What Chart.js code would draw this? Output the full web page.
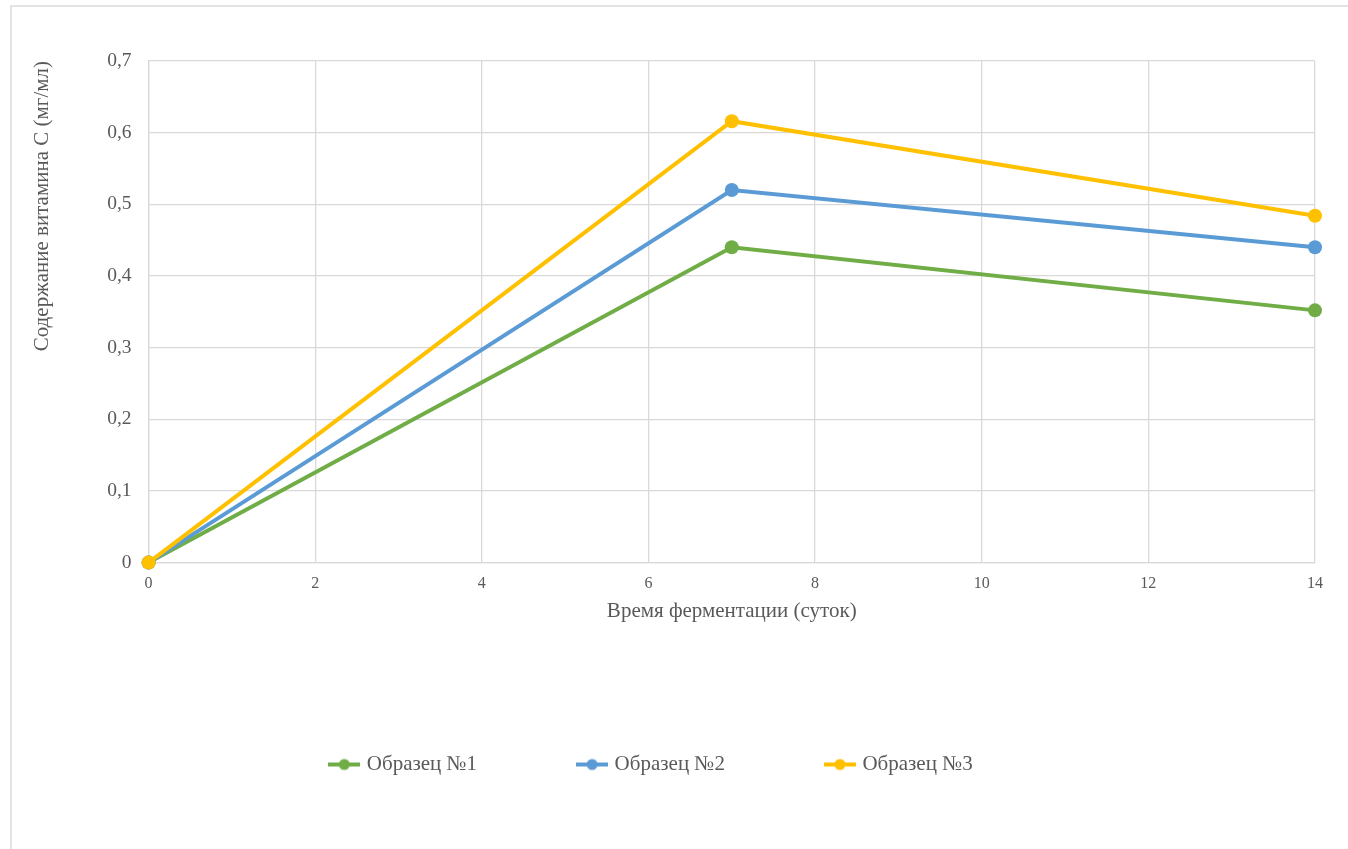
<!DOCTYPE html>
<html>
<head>
<meta charset="utf-8">
<script src="https://cdn.jsdelivr.net/npm/chart.js@4.4.0/dist/chart.umd.min.js"></script>
<style>
  html, body { margin: 0; padding: 0; background: #fff; overflow: hidden; }
  #frame { position: absolute; left: 10px; top: 5px; width: 1400px; height: 900px; border: 2px solid #e3e3e3; }
  #vitChart { position: absolute; left: 0; top: 0; }
</style>
</head>
<body>
<div id="frame"></div>
<canvas id="vitChart" width="1348" height="849"></canvas>
<script>
// --- data ---
const days = [0, 7, 14];
const sample1 = [0, 0.44, 0.352];
const sample2 = [0, 0.52, 0.44];
const sample3 = [0, 0.616, 0.484];
const seriesNames = ['Образец №1', 'Образец №2', 'Образец №3'];
const seriesColors = ['#70AD47', '#5B9BD5', '#FFC000'];

const FONT = '"Liberation Serif", "Times New Roman", serif';
const TEXT_COLOR = '#595959';
const LEGEND_SHIFT = -20; // legend sits a bit left of centre in the original

// legend marker: short line with a dot in the middle
function legendMarker(color) {
    const c = document.createElement('canvas');
    c.width = 32; c.height = 14;
    const g = c.getContext('2d');
    g.strokeStyle = color;
    g.lineWidth = 4;
    g.beginPath(); g.moveTo(0, 7); g.lineTo(32, 7); g.stroke();
    g.fillStyle = color;
    g.beginPath(); g.arc(16, 7, 5.5, 0, Math.PI * 2); g.fill();
    return c;
}

const allSeries = [sample1, sample2, sample3];
const datasets = allSeries.map((vals, i) => ({
    label: seriesNames[i],
    data: days.map((d, j) => ({ x: d, y: vals[j] })),
    borderColor: seriesColors[i],
    backgroundColor: seriesColors[i],
    borderWidth: 4,
    pointRadius: 7,
    pointHoverRadius: 7,
    pointBorderWidth: 0,
    tension: 0,
    clip: false,
    order: 2 - i, // yellow on top
    pointStyle: 'circle'
}));

const shiftLegend = {
    id: 'shiftLegend',
    afterLayout(chart) {
        if (chart.legend) {
            chart.legend.left += LEGEND_SHIFT;
            chart.legend.right += LEGEND_SHIFT;
        }
    }
};

const ctx = document.getElementById('vitChart').getContext('2d');
const vitChart = new Chart(ctx, {
    type: 'line',
    data: { datasets },
    plugins: [shiftLegend],
    options: {
        responsive: false,
        animation: false,
        layout: { padding: { left: 30, right: 33, top: 61, bottom: 64 } },
        scales: {
            x: {
                type: 'linear',
                min: 0, max: 14,
                ticks: { stepSize: 2, color: TEXT_COLOR, font: { family: FONT, size: 16 }, padding: 12 },
                grid: { color: '#d9d9d9', lineWidth: 1.3, drawTicks: false },
                border: { color: '#d9d9d9', width: 1.3 },
                title: {
                    display: true,
                    text: 'Время ферментации (суток)',
                    color: TEXT_COLOR,
                    font: { family: FONT, size: 21 },
                    padding: { top: -7, bottom: 27 }
                }
            },
            y: {
                min: 0, max: 0.7,
                ticks: {
                    stepSize: 0.1,
                    color: TEXT_COLOR,
                    font: { family: FONT, size: 19.5 },
                    padding: 17,
                    callback: v => (Math.round(v * 10) / 10).toString().replace('.', ',')
                },
                grid: { color: '#d9d9d9', lineWidth: 1.3, drawTicks: false },
                border: { color: '#d9d9d9', width: 1.3 },
                title: {
                    display: true,
                    text: 'Содержание витамина С (мг/мл)',
                    align: 'end',
                    color: TEXT_COLOR,
                    font: { family: FONT, size: 21 },
                    padding: { top: 0, bottom: 35 }
                }
            }
        },
        plugins: {
            legend: {
                position: 'bottom',
                labels: {
                    usePointStyle: true,
                    pointStyleWidth: 24,
                    padding: 103,
                    color: TEXT_COLOR,
                    font: { family: FONT, size: 21 },
                    sort: (a, b) => a.datasetIndex - b.datasetIndex,
                    generateLabels: chart => chart.data.datasets.map((ds, i) => ({
                        text: ds.label,
                        fontColor: TEXT_COLOR,
                        pointStyle: legendMarker(ds.borderColor),
                        strokeStyle: ds.borderColor,
                        fillStyle: ds.borderColor,
                        lineWidth: 0,
                        hidden: false,
                        datasetIndex: i
                    }))
                }
            },
            tooltip: { enabled: false }
        }
    }
});
</script>
</body>
</html>
